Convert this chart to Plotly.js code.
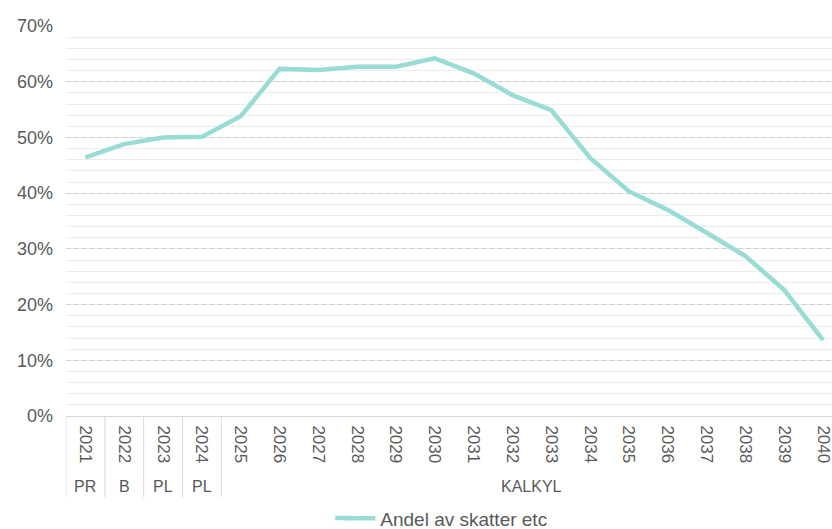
<!DOCTYPE html>
<html>
<head>
<meta charset="utf-8">
<script src="https://cdn.plot.ly/plotly-3.0.1.min.js"></script>
<style>
html,body{margin:0;padding:0;background:#fff;}
#chart{width:832px;height:529px;}
</style>
</head>
<body>
<div id="chart"></div>
<script>
// ---- data ----
const years = ['2021','2022','2023','2024','2025','2026','2027','2028','2029','2030',
               '2031','2032','2033','2034','2035','2036','2037','2038','2039','2040'];
const andelValues = [0.464,0.488,0.500,0.501,0.538,0.623,0.621,0.627,0.627,0.642,
                     0.615,0.576,0.549,0.463,0.403,0.370,0.329,0.287,0.226,0.136];
const groupLabels = ['PR','B','PL','PL','KALKYL'];
const groupSizes  = [1,1,1,1,16];
const seriesName = 'Andel av skatter etc';
const yTickVals = [0,0.1,0.2,0.3,0.4,0.5,0.6,0.7];

// ---- styling ----
const textColor = '#595959';
const sepColor = '#d9d9d9';
const lineColor = '#99dbd5';
const font = 'Liberation Sans, Arial, sans-serif';

// group separators and labels below the axis
const shapes = [];
const annotations = [];
let start = 0;
shapes.push({type:'line', xref:'x', yref:'paper', x0:-0.5, x1:-0.5, y0:0, y1:-0.208,
             line:{color:sepColor, width:1}});
groupLabels.forEach((lab, i) => {
  const n = groupSizes[i];
  const end = start + n;
  const isLast = i === groupLabels.length - 1;
  if (!isLast) {
    shapes.push({type:'line', xref:'x', yref:'paper', x0:end-0.5, x1:end-0.5, y0:0, y1:-0.208,
                 line:{color:sepColor, width:1}});
  }
  annotations.push({xref:'x', yref:'paper', x:(start + end - 1)/2, y:-0.182,
                    text:lab, showarrow:false, yanchor:'middle', xanchor:'center',
                    font:{family:font, size:16, color:textColor}});
  start = end;
});
// longer legend sample line (extends the legend's own line to the left)
shapes.push({type:'line', xref:'paper', yref:'paper', x0:0.3515, x1:0.375, y0:-0.2615, y1:-0.2615,
             line:{color:lineColor, width:4.5}});

const trace = {
  x: years, y: andelValues, type:'scatter', mode:'lines', name: seriesName,
  line:{color:lineColor, width:4.5}
};

const layout = {
  width:832, height:529,
  margin:{l:65.6, r:0, t:26, b:113},
  paper_bgcolor:'#fff', plot_bgcolor:'#fff',
  font:{family:font, color:textColor},
  xaxis:{
    type:'category', range:[-0.5, 19.23], showgrid:false, zeroline:false,
    showline:true, linecolor:sepColor, linewidth:1, automargin:false,
    tickangle:90, ticks:'', tickfont:{family:font, size:17, color:textColor},
    ticklabelstandoff:5, fixedrange:true
  },
  yaxis:{
    range:[0,0.7], tickvals:yTickVals, tickformat:'.0%', automargin:false,
    showgrid:true, gridcolor:'#cfcfcf', griddash:'5px,3px', gridwidth:1,
    zeroline:false, showline:false, ticks:'',
    tickfont:{family:font, size:18, color:textColor},
    ticklabelstandoff:12,
    minor:{dtick:0.02, showgrid:true, gridcolor:'#ececec', gridwidth:1, griddash:'solid'}
  },
  showlegend:true,
  legend:{orientation:'h', xref:'container', yref:'container',
          x:0.409, xanchor:'left', y:0.02, yanchor:'middle',
          font:{family:font, size:19, color:textColor}, bgcolor:'rgba(0,0,0,0)'},
  shapes: shapes,
  annotations: annotations
};

Plotly.newPlot('chart', [trace], layout, {displayModeBar:false, staticPlot:true});
</script>
</body>
</html>
